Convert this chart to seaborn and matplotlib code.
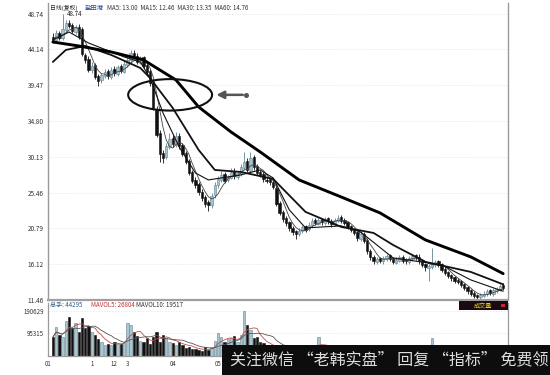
import numpy as np
import pandas as pd
import matplotlib
matplotlib.use("Agg")
import matplotlib.pyplot as plt
import seaborn as sns
from matplotlib.patches import Ellipse, Rectangle

# ---------------- data ----------------
closes = [45.3, 46.2, 45.6, 46.8, 47.5,
          47.2, 46.5, 47.0, 45.8,
          43.5,
          42.8, 41.5, 42.0, 40.5, 40.0,
          40.8, 41.2, 40.6, 41.5, 41.0, 41.8, 41.3, 42.2,
          42.8, 43.6, 43.2, 42.5, 43.0,
          42.0, 41.2, 39.8,
          36.5, 33.0, 30.5,
          30.0, 31.5, 32.5, 31.8, 32.8, 31.5, 30.5,
          29.5, 28.0, 27.0, 26.5, 25.5, 24.8, 24.0,
          23.8,
          25.0, 26.5, 27.2, 27.8, 27.0, 27.5, 28.2, 27.6,
          28.0, 28.8, 29.5, 28.4, 30.0, 28.8, 28.0,
          27.8, 27.2, 27.0, 26.8, 26.2,
          24.0,
          22.8, 22.0, 21.5,
          20.8, 20.3, 20.0, 20.5, 21.0, 20.6, 21.3, 21.8,
          21.5, 21.9, 21.6, 22.0, 21.7, 21.4, 21.9, 22.2, 21.8, 21.5,
          21.0, 20.6, 20.2, 19.5, 20.0, 19.2,
          17.8, 17.0, 16.5, 16.8,
          16.6, 16.9, 17.2, 16.8, 16.4, 16.7, 17.0, 16.6, 16.5, 16.9, 17.2, 17.0,
          16.5, 16.0, 15.7, 15.9, 16.2, 16.4,
          16.0, 15.4, 15.0, 14.6, 14.3, 14.0,
          13.8, 13.4, 13.0, 12.6, 12.3, 12.0, 11.9,
          12.1, 12.3, 12.6, 12.4, 12.7, 12.9, 13.3, 13.0]

opens = [45.8, 45.3, 46.3, 45.6, 46.7,
         47.6, 47.3, 46.4, 47.1,
         46.8,
         43.4, 42.9, 41.4, 42.1, 40.6,
         40.1, 40.7, 41.3, 40.5, 41.6, 40.9, 41.9, 41.2,
         42.1, 42.7, 43.7, 43.3, 42.4,
         43.1, 42.1, 41.3,
         39.7, 36.4, 33.2,
         30.6, 30.1, 31.4, 32.6, 31.7, 32.9, 31.6,
         30.6, 29.6, 28.1, 27.1, 26.6, 25.6, 24.9,
         24.2,
         23.9, 25.1, 26.4, 27.1, 27.9, 27.1, 27.4, 28.3,
         27.5, 27.9, 28.7, 29.6, 28.3, 30.1, 28.9,
         28.1, 27.9, 27.1, 27.2, 26.9,
         26.1,
         24.1, 22.9, 22.1,
         21.6, 20.9, 20.4, 20.1, 20.4, 21.1, 20.7, 21.2,
         21.9, 21.4, 22.0, 21.5, 22.1, 21.8, 21.3, 21.8, 22.3, 21.9,
         21.6, 21.1, 20.7, 20.3, 19.4, 20.1,
         19.3, 17.9, 17.1, 16.4,
         16.9, 16.5, 16.8, 17.3, 16.9, 16.3, 16.6, 17.1, 16.7, 16.4, 16.8, 17.3,
         17.1, 16.6, 16.1, 15.6, 15.8, 16.1,
         16.5, 16.1, 15.5, 15.1, 14.7, 14.4,
         14.1, 13.9, 13.5, 13.1, 12.7, 12.4, 12.1,
         11.8, 12.0, 12.2, 12.7, 12.3, 12.6, 12.8, 13.4]

highs = [46.2, 46.7, 46.5, 48.74, 47.9,
         47.9, 47.5, 47.3, 47.4,
         47.1,
         43.7, 43.2, 42.5, 42.4, 40.9,
         41.1, 41.6, 41.6, 41.8, 41.9, 42.1, 42.2, 42.6,
         43.2, 44.1, 44.0, 43.6, 43.3,
         43.3, 42.4, 41.6,
         40.0, 36.8, 33.6,
         31.0, 31.9, 33.2, 33.0, 33.3, 33.2, 31.9,
         30.9, 29.9, 28.4, 27.5, 26.9, 25.9, 25.2,
         24.5,
         25.4, 26.9, 27.6, 28.3, 28.2, 27.8, 28.6, 28.6,
         28.3, 29.2, 30.8, 30.0, 30.7, 30.4, 29.2,
         28.4, 28.2, 27.5, 27.4, 27.1,
         26.4,
         24.3, 23.2, 22.4,
         21.8, 21.1, 20.6, 20.8, 21.3, 21.3, 21.6, 22.2,
         22.1, 22.2, 22.2, 22.3, 22.3, 22.0, 22.2, 22.6, 22.5, 22.1,
         21.8, 21.3, 20.9, 20.5, 20.3, 20.3,
         19.5, 18.1, 17.3, 17.1,
         17.1, 17.2, 17.5, 17.5, 17.1, 17.0, 17.3, 17.3, 16.9, 17.2, 17.5, 17.5,
         17.4, 16.8, 16.3, 16.2, 18.3, 16.7,
         16.7, 16.3, 15.7, 15.3, 14.9, 14.6,
         14.3, 14.1, 13.7, 13.3, 12.9, 12.6, 12.3,
         12.4, 12.6, 12.9, 12.9, 13.0, 13.2, 13.6, 13.7]

lows = [45.0, 45.1, 45.3, 45.4, 46.4,
        46.9, 46.2, 46.1, 45.5,
        43.2,
        42.4, 41.2, 41.1, 40.2, 39.4,
        39.8, 40.4, 40.3, 40.3, 40.7, 40.6, 41.0, 41.0,
        41.8, 42.4, 42.9, 42.2, 42.2,
        41.7, 40.9, 39.3,
        36.2, 32.7, 29.5,
        29.3, 29.8, 31.1, 31.4, 31.4, 31.2, 30.2,
        29.2, 27.7, 26.7, 26.1, 25.1, 24.4, 23.6,
        23.0,
        23.5, 24.8, 26.1, 26.8, 26.7, 26.8, 27.2, 27.2,
        27.2, 27.6, 28.4, 28.1, 28.0, 28.4, 27.7,
        27.5, 26.9, 26.7, 26.4, 25.9,
        23.7,
        22.5, 21.6, 21.1,
        20.5, 19.9, 19.4, 19.8, 20.2, 20.3, 20.4, 21.0,
        21.2, 21.2, 21.3, 21.2, 21.4, 21.0, 21.1, 21.6, 21.5, 21.2,
        20.7, 20.3, 19.9, 19.2, 19.1, 18.9,
        17.5, 16.7, 16.2, 16.1,
        16.3, 16.2, 16.6, 16.5, 16.1, 16.1, 16.4, 16.3, 16.2, 16.2, 16.6, 16.7,
        16.2, 15.7, 15.3, 13.9, 15.5, 15.8,
        15.7, 15.1, 14.7, 14.3, 14.0, 13.7,
        13.5, 13.1, 12.7, 12.3, 12.0, 11.7, 11.46,
        11.6, 11.8, 12.0, 12.1, 12.0, 12.4, 12.6, 12.7]

volumes = [80000, 122000, 88000, 80000,
           150000, 165000,
           118000, 140000, 100000, 160000, 118000, 125000, 100000,
           90000, 70000, 60000, 45000, 50000,
           45000, 60000, 55000, 50000, 58000,
           140000, 130000, 100000, 85000, 65000,
           60000, 75000, 50000, 80000, 100000, 60000,
           90000, 75000, 60000, 55000, 45000,
           60000, 45000, 35000, 40000, 30000,
           30000, 25000, 20000, 40000, 25000,
           40000, 65000, 97000, 80000, 60000,
           70000, 75000, 85000, 60000, 90000,
           190000, 130000, 110000, 75000,
           80000, 60000, 55000, 40000, 35000,
           42000, 38000, 30000, 25000, 28000, 22000, 20000, 18000, 25000, 30000,
           28000, 35000, 40000, 45000, 80000, 40000, 30000, 28000, 25000, 22000,
           20000, 25000, 30000, 28000, 22000, 25000, 30000, 35000, 40000, 38000,
           30000, 25000, 22000, 20000, 18000, 22000, 25000, 20000, 18000, 16000,
           20000, 22000, 25000, 28000, 24000, 20000, 22000, 30000, 35000, 75000,
           40000, 30000, 28000, 25000, 22000, 20000, 18000, 20000, 24000, 26000,
           28000, 30000, 32000, 35000, 30000, 28000, 25000, 27000, 30000, 26000, 40000, 44295]

# moving averages (day index, value)
ma15_day = [0, 5, 11, 22, 27, 30, 34, 39, 44, 48, 58, 64, 68, 73, 78, 89, 95, 105, 120, 129, 139]
ma15_val = [45.35, 46.39, 44.96, 43.14, 42.49, 40.40, 35.84, 31.41, 28.02, 27.11, 27.76, 28.41,
            27.37, 23.20, 20.86, 21.12, 20.33, 16.95, 16.04, 14.08, 12.60]
ma30_day = [0, 4, 10, 18, 27, 30, 37, 45, 50, 58, 68, 78, 89, 99, 105, 115, 129, 139]
ma30_val = [42.49, 44.05, 44.57, 43.40, 41.70, 40.40, 36.49, 31.02, 28.41, 28.15, 27.24, 22.94,
            20.99, 20.20, 18.64, 16.43, 15.12, 13.50]
ma60_day = [0, 8, 18, 28, 38, 45, 55, 64, 76, 89, 101, 115, 129, 139]
ma60_val = [45.09, 44.57, 43.79, 42.75, 40.14, 36.62, 33.36, 30.76, 27.11, 24.89, 22.81, 19.29,
            17.08, 14.90]

price_ticks = [11.46, 16.12, 20.79, 25.46, 30.13, 34.80, 39.47, 44.14, 48.74]
vol_ticks = [95315, 190629]
date_pos = [-1.5, 12, 19, 23, 37, 51]
date_labels = ["01", "1", "12", "3", "04", "05"]

# ---------------- style ----------------
sns.set_style("white")
plt.rcParams['font.family'] = ['Noto Sans CJK SC', 'DejaVu Sans']

W, H = 550, 375
fig = plt.figure(figsize=(5.5, 3.75), dpi=100)
ax = fig.add_axes([48 / W, 1 - 300 / H, 460 / W, 297 / H])
axv = fig.add_axes([48 / W, 1 - 356 / H, 460 / W, 53 / H])

df = pd.DataFrame(dict(day=np.arange(len(closes)), o=opens, h=highs, l=lows, c=closes, v=volumes))
df['up'] = df.c >= df.o
up_col, up_edge, dn_col = '#a6c3cf', '#5f8290', '#111111'
fcols = np.where(df.up, up_col, dn_col)
ecols = np.where(df.up, up_edge, dn_col)

# candles
ax.vlines(df.day, df.l, df.h, colors=ecols, lw=0.6, zorder=2)
ax.bar(df.day, (df.c - df.o).abs().clip(lower=0.08), bottom=np.minimum(df.o, df.c),
       width=0.72, color=fcols, edgecolor=ecols, linewidth=0.4, zorder=3)

# moving averages
df['ma5'] = df.c.rolling(5, min_periods=1).mean()
sns.lineplot(data=df, x='day', y='ma5', ax=ax, color='#444444', lw=0.6, zorder=4)
sns.lineplot(x=ma15_day, y=ma15_val, ax=ax, color='#111111', lw=0.8, zorder=4)
sns.lineplot(x=ma30_day, y=ma30_val, ax=ax, color='#111111', lw=1.3, zorder=4)
sns.lineplot(x=ma60_day, y=ma60_val, ax=ax, color='#000000', lw=2.1, zorder=4)

ax.set_xlim(-1.5, 140.5)
ax.set_ylim(11.46, 50.17)
ax.set_yticks(price_ticks)
ax.set_yticklabels([f"{t:.2f}" for t in price_ticks], fontsize=4.6, color='#333333')
ax.set_xticks([])
ax.set_xlabel(''); ax.set_ylabel('')
ax.tick_params(axis='y', length=2, width=0.5, color='#888888', pad=1)
ax.grid(axis='y', color='#e4e4e4', lw=0.5, ls=(0, (2, 2)))
for s in ['left', 'right']:
    ax.spines[s].set_color('#9a9a9a'); ax.spines[s].set_linewidth(1.0)
ax.spines['bottom'].set_color('#a0a0a0'); ax.spines['bottom'].set_linewidth(1.6)
ax.spines['top'].set_visible(False)

# annotation ellipse + arrow
ax.add_patch(Ellipse((36.2, 38.2), width=25.9, height=4.1, fill=False, ec='#111111', lw=1.5, zorder=6))
ax.annotate('', xy=(49.6, 38.2), xytext=(59.5, 38.2),
            arrowprops=dict(arrowstyle='-|>', color='#555555', lw=1.8, mutation_scale=11), zorder=6)
ax.plot([59.5], [38.2], 'o', ms=2.6, color='#555555', zorder=6)

ax.text(4.2, 48.74, '48.74', fontsize=4.5, color='#222222', va='center', ha='left')

# header text
fig.text(50 / W, 1 - 8 / H, '日线(复权)', fontsize=4.2, color='#222222', va='center')
fig.text(85 / W, 1 - 8 / H, '盐田港', fontsize=4.6, color='#2a4e9a', va='center')
fig.text(107 / W, 1 - 8 / H, 'MA5: 13.00  MA15: 12.46  MA30: 13.35  MA60: 14.76',
         fontsize=4.4, color='#333333', va='center')

# volume panel
vcols = np.where(df.up, '#a9c6d2', '#111111')
vedges = np.where(df.up, '#628592', '#111111')
axv.bar(df.day, df.v, width=0.72, color=vcols, edgecolor=vedges, linewidth=0.4, zorder=2)
df['mv5'] = df.v.rolling(5, min_periods=1).mean()
df['mv10'] = df.v.rolling(10, min_periods=1).mean()
sns.lineplot(data=df, x='day', y='mv5', ax=axv, color='#c24a4a', lw=0.6, zorder=3)
sns.lineplot(data=df, x='day', y='mv10', ax=axv, color='#555555', lw=0.6, zorder=3)
axv.set_xlim(-1.5, 140.5)
axv.set_ylim(0, 224500)
axv.set_yticks(vol_ticks)
axv.set_yticklabels([str(t) for t in vol_ticks], fontsize=4.4, color='#333333')
axv.set_xticks(date_pos)
axv.set_xticklabels(date_labels, fontsize=4.4, color='#333333')
axv.set_xlabel(''); axv.set_ylabel('')
axv.tick_params(axis='both', length=2, width=0.5, color='#888888', pad=1)
axv.grid(axis='y', color='#e4e4e4', lw=0.5, ls=(0, (2, 2)))
for s in ['left', 'right', 'bottom']:
    axv.spines[s].set_color('#9a9a9a'); axv.spines[s].set_linewidth(0.9)
axv.spines['top'].set_visible(False)

fig.text(50 / W, 1 - 305 / H, '总手: 44295', fontsize=4.4, color='#2d5a8a', va='center')
fig.text(91 / W, 1 - 305 / H, 'MAVOL5: 26804', fontsize=4.4, color='#c03030', va='center')
fig.text(136 / W, 1 - 305 / H, 'MAVOL10: 19517', fontsize=4.4, color='#333333', va='center')

# "成交量" tag
fig.patches.append(Rectangle((459 / W, 1 - 310 / H), 49 / W, 9 / H, transform=fig.transFigure,
                             facecolor='#1c0a12', edgecolor='none', zorder=5))
fig.text(483 / W, 1 - 305.5 / H, '成交量', fontsize=4.4, color='#e6d200', va='center', ha='center', zorder=6)
fig.patches.append(Rectangle((501 / W, 1 - 307 / H), 4 / W, 3.5 / H, transform=fig.transFigure,
                             facecolor='#d02030', edgecolor='none', zorder=6))

# watermark banner
fig.patches.append(Rectangle((222 / W, 0), (W - 222) / W, 30 / H, transform=fig.transFigure,
                             facecolor='#0d0d0d', edgecolor='none', zorder=10))
fig.text(230 / W, 15 / H, '关注微信 “老韩实盘” 回复 “指标” 免费领', fontsize=11.5,
         color='#dedede', va='center', ha='left', zorder=11)

fig.savefig('out.png', dpi=100)
